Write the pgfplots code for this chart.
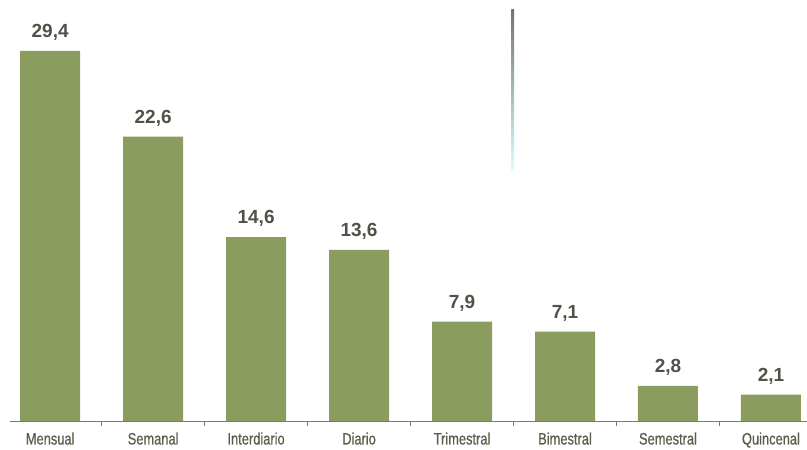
\documentclass[border=0pt]{standalone}
\usepackage{pgfplots}
\pgfplotsset{compat=1.18}
\usepackage{fontspec}
\setmainfont{Liberation Sans}
\newfontfamily\condfont[FakeStretch=0.78,FakeBold=0.6]{Liberation Sans}
\definecolor{bargreen}{RGB}{138,157,94}
\definecolor{valgray}{RGB}{80,82,72}
\definecolor{catgray}{RGB}{88,94,72}
\definecolor{axgray}{RGB}{120,120,120}
\begin{document}
\begin{tikzpicture}
\useasboundingbox (0,0) rectangle (807pt,450pt);
\begin{axis}[
  at={(10pt,29pt)}, anchor=south west,
  scale only axis,
  width=797pt, height=421pt,
  xmin=-0.39, xmax=7.35,
  ymin=0, ymax=33.45,
  axis y line=none,
  axis x line*=bottom,
  axis line style={draw=axgray, line width=0.8pt},
  xtick={0,...,7},
  xticklabels={Mensual,Semanal,Interdiario,Diario,Trimestral,Bimestral,Semestral,Quincenal},
  major tick length=0pt,
  minor xtick={0.5,1.5,...,6.5},
  minor tick length=5pt,
  tick align=outside,
  minor tick style={draw=axgray, line width=0.8pt},
  x tick label style={font=\condfont\fontsize{16.5}{16.5}\selectfont, text=catgray, yshift=-8pt},
  ybar, bar width=60pt,
  nodes near coords,
  nodes near coords style={font=\bfseries\fontsize{19}{19}\selectfont, text=valgray, yshift=7pt,
    /pgf/number format/.cd, use comma, fixed, fixed zerofill, precision=1, assume math mode=true},
  clip=false,
]
\addplot[fill=bargreen, draw=none] coordinates {
(0,29.4) (1,22.6) (2,14.6) (3,13.6) (4,7.9) (5,7.1) (6,2.8) (7,2.1)};
\shade[top color=gray!90!black, bottom color=cyan!15] (axis cs:4.48,19.9) rectangle (axis cs:4.505,32.7);
\end{axis}
\end{tikzpicture}
\end{document}
